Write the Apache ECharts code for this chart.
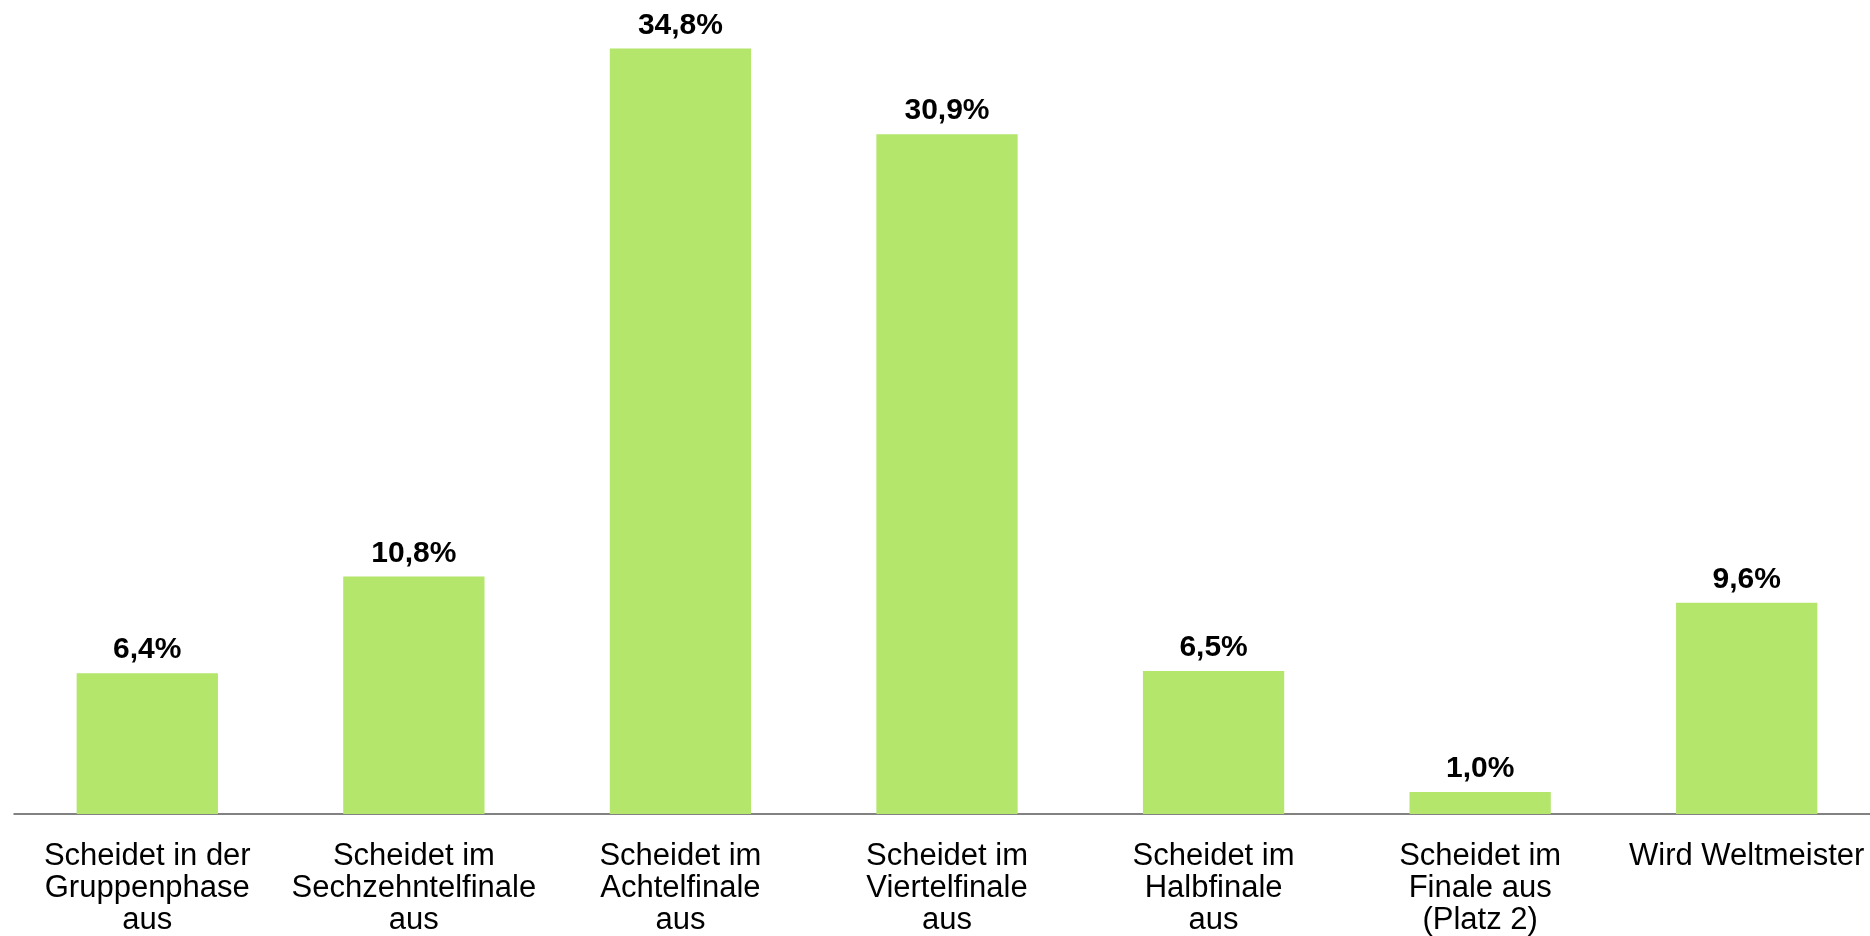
<!DOCTYPE html>
<html>
<head>
<meta charset="utf-8">
<script src="https://cdn.jsdelivr.net/npm/echarts@6/dist/echarts.min.js"></script>
<style>
html,body{margin:0;padding:0;background:#fff;overflow:hidden;}
#chart{width:1880px;height:936px;}
</style>
</head>
<body>
<div id="chart"></div>
<script>
const categories = [
  'Scheidet in der\nGruppenphase\naus',
  'Scheidet im\nSechzehntelfinale\naus',
  'Scheidet im\nAchtelfinale\naus',
  'Scheidet im\nViertelfinale\naus',
  'Scheidet im\nHalbfinale\naus',
  'Scheidet im\nFinale aus\n(Platz 2)',
  'Wird Weltmeister'
];
const values = [6.4, 10.8, 34.8, 30.9, 6.5, 1.0, 9.6];

const chart = echarts.init(document.getElementById('chart'));
chart.setOption({
  backgroundColor: '#ffffff',
  animation: false,
  grid: { left: 14, right: 0, top: 22, bottom: 120, containLabel: false },
  xAxis: {
    type: 'category',
    data: categories,
    axisLine: { show: true, lineStyle: { color: '#595959', width: 1.5 } },
    axisTick: { show: false },
    axisLabel: {
      interval: 0,
      margin: 26,
      color: '#000000',
      fontFamily: 'Liberation Sans, Arial, sans-serif',
      fontSize: 31,
      lineHeight: 32
    }
  },
  yAxis: {
    type: 'value',
    min: 0,
    max: 36,
    show: false,
    splitLine: { show: false }
  },
  series: [{
    type: 'bar',
    data: values,
    barWidth: '53%',
    itemStyle: { color: '#b3e66b' },
    label: {
      show: true,
      position: 'top',
      distance: 8,
      color: '#000000',
      fontFamily: 'Liberation Sans, Arial, sans-serif',
      fontWeight: 'bold',
      fontSize: 30,
      formatter: p => p.value.toFixed(1).replace('.', ',') + '%'
    }
  }]
});
</script>
</body>
</html>
